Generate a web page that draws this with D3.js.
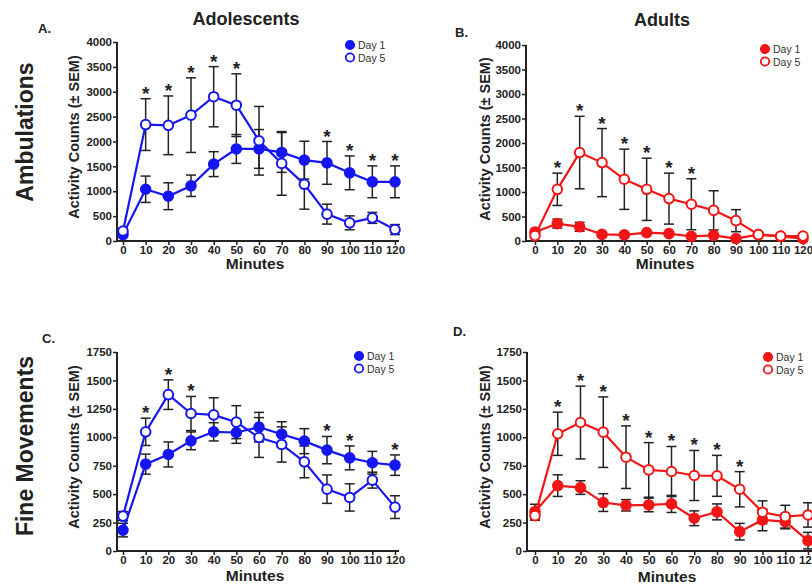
<!DOCTYPE html>
<html>
<head>
<meta charset="utf-8">
<script src="https://cdn.jsdelivr.net/npm/d3@7"></script>
<style>
body { margin: 0; background: #fff; }
svg { font-family: "Liberation Sans", Arial, sans-serif; }
</style>
</head>
<body>
<script>
// time points and y tick values
var minutes = [0, 10, 20, 30, 40, 50, 60, 70, 80, 90, 100, 110, 120];
var ambTicks = [0, 500, 1000, 1500, 2000, 2500, 3000, 3500, 4000];
var fineTicks = [0, 250, 500, 750, 1000, 1250, 1500, 1750];

// A. adolescents, ambulations
var adoAmbDay1 = [130, 1040, 900, 1110, 1545, 1850, 1850, 1780, 1625, 1570, 1370, 1190, 1190];
var adoAmbDay1Sem = [40, 265, 270, 215, 250, 290, 390, 400, 380, 430, 340, 320, 320];
var adoAmbDay5 = [200, 2340, 2325, 2530, 2900, 2730, 2015, 1560, 1140, 540, 365, 465, 230];
var adoAmbDay5Sem = [40, 520, 590, 750, 605, 630, 690, 640, 500, 200, 140, 110, 100];
var adoAmbStars = [10, 20, 30, 40, 50, 90, 100, 110, 120];

// B. adults, ambulations
var aduAmbDay1 = [185, 355, 290, 135, 125, 170, 150, 95, 115, 50, 130, 95, 50];
var aduAmbDay1Sem = [30, 90, 90, 30, 30, 30, 30, 30, 30, 20, 30, 20, 20];
var aduAmbDay5 = [110, 1055, 1805, 1600, 1260, 1055, 865, 750, 625, 415, 130, 100, 100];
var aduAmbDay5Sem = [30, 330, 740, 695, 615, 635, 520, 520, 400, 225, 40, 30, 30];
var aduAmbStars = [10, 20, 30, 40, 50, 60, 70];

// C. adolescents, fine movements
var adoFineDay1 = [184, 764, 849, 969, 1048, 1042, 1089, 1027, 966, 887, 819, 776, 755];
var adoFineDay1Sem = [60, 88, 110, 78, 80, 95, 130, 110, 110, 120, 105, 100, 90];
var adoFineDay5 = [307, 1048, 1375, 1209, 1197, 1133, 998, 937, 784, 544, 471, 623, 386];
var adoFineDay5Sem = [40, 120, 130, 150, 150, 145, 175, 155, 140, 125, 120, 70, 100];
var adoFineStars = [10, 20, 30, 90, 100, 120];

// D. adults, fine movements
var aduFineDay1 = [346, 575, 558, 426, 402, 405, 414, 288, 344, 170, 273, 258, 91];
var aduFineDay1Sem = [65, 95, 60, 78, 50, 60, 75, 65, 70, 73, 95, 63, 73];
var aduFineDay5 = [311, 1031, 1130, 1045, 825, 713, 699, 664, 661, 543, 341, 302, 317];
var aduFineDay5Sem = [40, 190, 320, 310, 275, 240, 220, 220, 180, 155, 100, 100, 107];
var aduFineStars = [10, 20, 30, 40, 50, 60, 70, 80, 90];

var blue = "#1616f2";
var red = "#f21616";
var ink = "#222";

var svg = d3.select("body")
	.append("svg")
	.attr("width", 812)
	.attr("height", 587);

var panels = [
	{letter: "A.", lx: 38, ly: 33, ax: 117, x0: 123, x1: 395, yt: 42, yb: 241, ymax: 4000, ticks: ambTicks,
	 d1: adoAmbDay1, s1: adoAmbDay1Sem, d5: adoAmbDay5, s5: adoAmbDay5Sem, stars: adoAmbStars,
	 color: blue, tx: 79, ty: 137, mx: 255, my: 269, legX: 350, legY: 45},
	{letter: "B.", lx: 455, ly: 37, ax: 526, x0: 535, x1: 803, yt: 45, yb: 241, ymax: 4000, ticks: ambTicks,
	 d1: aduAmbDay1, s1: aduAmbDay1Sem, d5: aduAmbDay5, s5: aduAmbDay5Sem, stars: aduAmbStars,
	 color: red, tx: 490, ty: 139, mx: 665, my: 269, legX: 765, legY: 49},
	{letter: "C.", lx: 42, ly: 343, ax: 117, x0: 123, x1: 395, yt: 352, yb: 551, ymax: 1750, ticks: fineTicks,
	 d1: adoFineDay1, s1: adoFineDay1Sem, d5: adoFineDay5, s5: adoFineDay5Sem, stars: adoFineStars,
	 color: blue, tx: 79, ty: 447, mx: 255, my: 581, legX: 359, legY: 356},
	{letter: "D.", lx: 453, ly: 336, ax: 527, x0: 535, x1: 808, yt: 352, yb: 551, ymax: 1750, ticks: fineTicks,
	 d1: aduFineDay1, s1: aduFineDay1Sem, d5: aduFineDay5, s5: aduFineDay5Sem, stars: aduFineStars,
	 color: red, tx: 490, ty: 447, mx: 667, my: 582, legX: 768, legY: 357}
];

// column and row headings
svg.append("text").attr("x", 246).attr("y", 25).attr("text-anchor", "middle")
	.style("font-size", "18px").style("font-weight", "bold").attr("fill", ink).text("Adolescents");
svg.append("text").attr("x", 662).attr("y", 26).attr("text-anchor", "middle")
	.style("font-size", "18px").style("font-weight", "bold").attr("fill", ink).text("Adults");
svg.append("text").attr("transform", "translate(33,132) rotate(-90)").attr("text-anchor", "middle")
	.style("font-size", "23px").style("font-weight", "bold").attr("fill", ink).text("Ambulations");
svg.append("text").attr("transform", "translate(33,446) rotate(-90)").attr("text-anchor", "middle")
	.style("font-size", "23px").style("font-weight", "bold").attr("fill", ink).text("Fine Movements");

panels.forEach(function(p){
	var x = d3.scaleLinear().domain([0, 120]).range([p.x0, p.x1]);
	var y = d3.scaleLinear().domain([0, p.ymax]).range([p.yb, p.yt]);
	var g = svg.append("g");

	g.append("text").attr("x", p.lx).attr("y", p.ly)
		.style("font-size", "13px").style("font-weight", "bold").attr("fill", ink).text(p.letter);

	// y axis
	var yAxis = g.append("g")
		.attr("transform", "translate(" + p.ax + ",0)")
		.call(d3.axisLeft(y).tickValues(p.ticks).tickFormat(d3.format("d"))
			.tickSize(4).tickSizeOuter(0).tickPadding(1));
	// x axis
	var xAxis = g.append("g")
		.attr("transform", "translate(0," + p.yb + ")")
		.call(d3.axisBottom(x).tickValues(minutes).tickFormat(d3.format("d"))
			.tickSize(4).tickSizeOuter(0).tickPadding(1));
	[yAxis, xAxis].forEach(function(a){
		a.select(".domain").remove();
		a.selectAll("line").attr("stroke", ink).attr("stroke-width", 1.5);
		a.selectAll("text").attr("fill", ink).style("font-size", "11.5px").style("font-weight", "bold")
			.style("font-family", "'Liberation Sans', Arial, sans-serif");
	});
	g.append("line").attr("x1", p.ax).attr("x2", p.ax).attr("y1", y(p.ymax)).attr("y2", p.yb + 1)
		.attr("stroke", ink).attr("stroke-width", 2);
	g.append("line").attr("x1", p.ax - 1).attr("x2", x(120) + 4).attr("y1", p.yb).attr("y2", p.yb)
		.attr("stroke", ink).attr("stroke-width", 2);

	g.append("text").attr("transform", "translate(" + p.tx + "," + p.ty + ") rotate(-90)")
		.attr("text-anchor", "middle").style("font-size", "14.5px").style("font-weight", "bold")
		.attr("fill", ink).text("Activity Counts (\u00b1 SEM)");
	g.append("text").attr("x", p.mx).attr("y", p.my).attr("text-anchor", "middle")
		.style("font-size", "15.5px").style("font-weight", "bold").attr("fill", ink).text("Minutes");

	var series = [
		{vals: p.d1, sem: p.s1, fill: p.color},
		{vals: p.d5, sem: p.s5, fill: "#fff"}
	];

	// error bars
	series.forEach(function(s){
		var eb = g.append("g").selectAll("g").data(minutes).enter().append("g");
		eb.append("line")
			.attr("x1", function(m){ return x(m); })
			.attr("x2", function(m){ return x(m); })
			.attr("y1", function(m, i){ return y(s.vals[i] + s.sem[i]); })
			.attr("y2", function(m, i){ return y(Math.max(0, s.vals[i] - s.sem[i])); });
		eb.append("line")
			.attr("x1", function(m){ return x(m) - 5; })
			.attr("x2", function(m){ return x(m) + 5; })
			.attr("y1", function(m, i){ return y(s.vals[i] + s.sem[i]); })
			.attr("y2", function(m, i){ return y(s.vals[i] + s.sem[i]); });
		eb.append("line")
			.attr("x1", function(m){ return x(m) - 5; })
			.attr("x2", function(m){ return x(m) + 5; })
			.attr("y1", function(m, i){ return y(Math.max(0, s.vals[i] - s.sem[i])); })
			.attr("y2", function(m, i){ return y(Math.max(0, s.vals[i] - s.sem[i])); });
		eb.selectAll("line").attr("stroke", ink).attr("stroke-width", 1.5);
	});

	// lines and markers
	series.forEach(function(s){
		var line = d3.line()
			.x(function(m){ return x(m); })
			.y(function(m, i){ return y(s.vals[i]); });
		g.append("path").datum(minutes).attr("d", line)
			.attr("fill", "none").attr("stroke", p.color).attr("stroke-width", 2.2);
	});
	series.forEach(function(s){
		g.append("g").selectAll("circle").data(minutes).enter().append("circle")
			.attr("cx", function(m){ return x(m); })
			.attr("cy", function(m, i){ return y(s.vals[i]); })
			.attr("r", 4.8)
			.attr("fill", s.fill)
			.attr("stroke", p.color)
			.attr("stroke-width", 2);
	});

	// significance stars
	g.append("g").selectAll("text").data(p.stars).enter().append("text")
		.attr("x", function(m){ return x(m); })
		.attr("y", function(m){
			var i = minutes.indexOf(m);
			var top = Math.max(p.d1[i] + p.s1[i], p.d5[i] + p.s5[i]);
			return y(top) + 1;
		})
		.attr("text-anchor", "middle")
		.style("font-size", "19px").style("font-weight", "bold").attr("fill", ink)
		.text("*");

	// legend
	var leg = g.append("g").attr("transform", "translate(" + p.legX + "," + p.legY + ")");
	series.forEach(function(s, k){
		var row = leg.append("g").attr("transform", "translate(0," + (k * 12.5) + ")");
		row.append("line").attr("x1", -5).attr("x2", 5).attr("stroke", p.color).attr("stroke-width", 2);
		row.append("circle").attr("r", 4.2).attr("fill", s.fill).attr("stroke", p.color).attr("stroke-width", 1.8);
		row.append("text").attr("x", 8).attr("y", 4)
			.style("font-size", "10.5px").attr("fill", "#333").text(k === 0 ? "Day 1" : "Day 5");
	});
});
</script>
</body>
</html>
